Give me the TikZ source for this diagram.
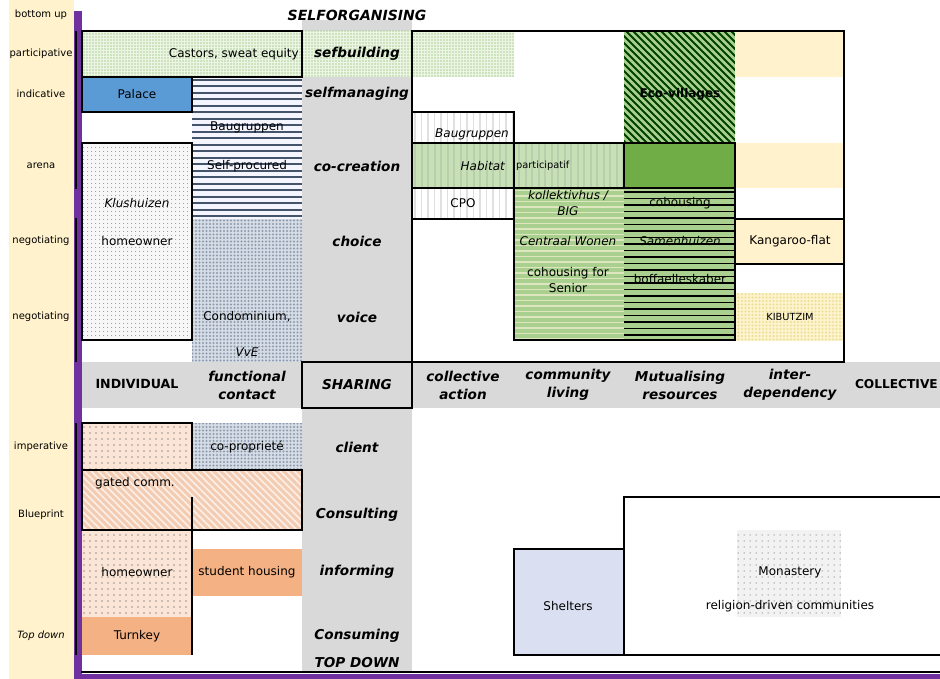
\documentclass[tikz,border=0pt]{standalone}
\usepackage{fontspec}
\setmainfont{DejaVu Sans}
\usepackage{xcolor}
\usetikzlibrary{patterns.meta}

\definecolor{cream}{RGB}{255,242,204}
\definecolor{purplebar}{RGB}{112,48,160}
\definecolor{greycol}{RGB}{217,217,217}
\definecolor{palaceblue}{RGB}{91,155,213}
\definecolor{leafgreen}{RGB}{112,173,71}
\definecolor{sagegreen}{RGB}{169,208,142}
\definecolor{palegreen}{RGB}{200,224,182}
\definecolor{stripegreen}{RGB}{184,206,172}
\definecolor{paleline}{RGB}{222,230,192}
\definecolor{dotgreen}{RGB}{175,208,155}
\definecolor{dotbg}{RGB}{236,244,228}
\definecolor{peach}{RGB}{244,177,131}
\definecolor{palepeach}{RGB}{251,229,214}
\definecolor{hatchpeach}{RGB}{242,205,180}
\definecolor{lavender}{RGB}{218,224,242}
\definecolor{slate}{RGB}{68,84,106}
\definecolor{checkbg}{RGB}{214,220,228}
\definecolor{checkgrey}{RGB}{140,155,175}
\definecolor{kibdot}{RGB}{228,226,150}

\begin{document}
\begin{tikzpicture}[x=1pt,y=-1pt,
  every node/.style={inner sep=1pt},
  lab/.style={font=\fontsize{10}{12}\selectfont},
  txt/.style={font=\fontsize{12}{16}\selectfont,align=center},
  small/.style={font=\fontsize{9.8}{12}\selectfont},
  key/.style={font=\fontsize{13.6}{18}\selectfont\bfseries\itshape,align=center},
  cellb/.style={draw=black,line width=2.2pt},
  greendots/.style={preaction={fill=dotbg},pattern={Dots[radius=0.8pt,distance=3pt]},pattern color=dotgreen},
  greydots/.style={preaction={fill=black!3},pattern={Dots[radius=0.55pt,distance=4pt]},pattern color=black!60},
  checker/.style={preaction={fill=checkbg},pattern={Dots[radius=1.2pt,distance=3.5pt]},pattern color=checkgrey},
  peachdots/.style={preaction={fill=palepeach},pattern={Dots[radius=0.6pt,distance=6pt]},pattern color=black!80},
  yellowcheck/.style={preaction={fill=cream},pattern={Dots[radius=1.1pt,distance=3.5pt]},pattern color=kibdot},
  monkdots/.style={preaction={fill=black!5},pattern={Dots[radius=0.5pt,distance=6pt]},pattern color=black!80}]

\useasboundingbox (0,0) rectangle (940,679);

% side band and frame
\fill[cream] (9,0) rectangle (74,679);
\fill[purplebar] (74,11) rectangle (82,679);
\fill[purplebar] (74,674) rectangle (940,679);
\fill[greycol] (302,20) rectangle (412,672);
\fill[greycol] (82,362) rectangle (940,408);

% bottom-up half
\path[greendots] (82,31) rectangle (412,77);
\path[greendots] (412,31) rectangle (514,77);
\fill[palaceblue] (82,77) rectangle (192,112);
\begin{scope}
  \clip (192,77) rectangle (302,219);
  \fill[blue!4] (192,77) rectangle (302,219);
  \foreach \y in {80,86.5,...,219} \draw[slate,line width=2pt] (192,\y) -- (302,\y);
\end{scope}
\path[greydots] (82,143) rectangle (192,340);
\path[checker] (192,219) rectangle (302,362);
\begin{scope}
  \clip (624,31) rectangle (735,143);
  \fill[sagegreen] (624,31) rectangle (735,143);
  \foreach \s in {500,507,...,740} \draw[black!75!green,line width=1.8pt] (\s,31) -- ++(125,125);
\end{scope}
\fill[cream] (735,31) rectangle (844,77);
\fill[cream] (735,143) rectangle (844,188);
\begin{scope}
  \clip (412,112) rectangle (514,219);
  \foreach \x in {415,421.5,...,514} \draw[black!12,line width=1.6pt] (\x,112) -- (\x,219);
\end{scope}
\begin{scope}
  \clip (412,143) rectangle (624,188);
  \fill[palegreen] (412,143) rectangle (624,188);
  \foreach \x in {415,421.5,...,624} \draw[stripegreen,line width=2pt] (\x,143) -- (\x,188);
\end{scope}
\fill[leafgreen] (624,143) rectangle (735,188);
\begin{scope}
  \clip (514,188) rectangle (624,340);
  \fill[sagegreen] (514,188) rectangle (624,340);
  \foreach \y in {190.5,196,...,340} \draw[paleline,line width=1.8pt] (514,\y) -- (624,\y);
\end{scope}
\begin{scope}
  \clip (624,188) rectangle (735,340);
  \fill[sagegreen] (624,188) rectangle (735,340);
  \foreach \y in {192,198.5,...,340} \draw[black,line width=1.3pt] (624,\y) -- (735,\y);
\end{scope}
\fill[cream] (735,219) rectangle (844,264);
\path[yellowcheck] (735,293) rectangle (843,341);

\draw[cellb] (82,31) rectangle (302,77);
\draw[cellb] (82,77) rectangle (192,112);
\draw[cellb] (82,143) rectangle (192,340);
\draw[cellb] (412,31) rectangle (844,362);
\draw[cellb] (412,112) rectangle (514,143);
\draw[cellb] (412,143) rectangle (514,188);
\draw[cellb] (514,143) rectangle (624,188);
\draw[cellb] (624,143) rectangle (735,188);
\draw[cellb] (412,188) rectangle (514,219);
\draw[cellb] (514,188) rectangle (735,340);
\draw[cellb] (735,219) rectangle (844,264);
\draw[cellb] (302,362) rectangle (412,408);

% top-down half
\path[peachdots] (82,423) rectangle (192,470);
\path[checker] (192,423) rectangle (302,470);
\begin{scope}
  \clip (82,470) rectangle (302,530);
  \fill[hatchpeach] (82,470) rectangle (302,530);
  \foreach \s in {20,27,...,302} \draw[palepeach!60!white,line width=1.6pt] (\s,470) -- ++(70,70);
\end{scope}
\path[peachdots] (82,530) rectangle (192,617);
\fill[peach] (82,617) rectangle (192,655);
\fill[peach] (192,549) rectangle (302,596);
\fill[lavender] (514,549) rectangle (624,655);
\path[monkdots] (737,530) rectangle (841,617);

\draw[cellb] (82,423) rectangle (192,470);
\draw[cellb] (82,470) rectangle (302,530);
\draw[line width=1.6pt] (192,497) -- (192,655);
\draw[cellb] (514,549) rectangle (624,655);
\draw[cellb] (942,497) -| (624,655) -- (942,655);

\draw[line width=2pt] (76,31) -- (76,189);
\draw[line width=2pt] (76,218) -- (76,362);
\draw[line width=2pt] (76,423) -- (76,655);
\draw[line width=2.2pt] (81,672) -- (940,672);

% left scale
\node[lab] (bu) at (41,15) {bottom up};
\node[lab] (pa) at (41,54) {participative};
\node[lab] (in) at (41,94) {indicative};
\node[lab] (ar) at (41,166) {arena};
\node[lab] (ne1) at (41,241) {negotiating};
\node[lab] (ne2) at (41,317) {negotiating};
\node[lab] (im) at (41,447) {imperative};
\node[lab] (bp) at (41,515) {Blueprint};
\node[lab,font=\fontsize{10}{12}\selectfont\itshape] (td) at (41,636) {Top down};

% sharing column
\node[key,font=\fontsize{14}{18}\selectfont\bfseries\itshape] (self) at (357,15) {SELFORGANISING};
\node[key] (sb) at (357,54) {sefbuilding};
\node[key] (sm) at (357,94) {selfmanaging};
\node[key] (cc) at (357,166) {co-creation};
\node[key] (ch) at (357,241) {choice};
\node[key] (vo) at (357,317) {voice};
\node[key] (sh) at (357,385) {SHARING};
\node[key] (cl) at (357,447) {client};
\node[key] (co) at (357,515) {Consulting};
\node[key] (inf) at (357,572) {informing};
\node[key] (cons) at (357,636) {Consuming};
\node[key] (down) at (357,663) {TOP DOWN};

% header row
\node[key,font=\fontsize{12.6}{18}\selectfont\bfseries] (indiv) at (137,384) {INDIVIDUAL};
\node[key] (func) at (247,385) {functional\\contact};
\node[key] (coll) at (463,385) {collective\\action};
\node[key] (comm) at (568,385) {community\\living};
\node[key] (mutu) at (680,385) {Mutualising\\resources};
\node[key] (inter) at (790,385) {inter-\\dependency};
\node[key,font=\fontsize{12.2}{18}\selectfont\bfseries,anchor=east] (collective) at (939,384) {COLLECTIVE};

% cells, upper half
\node[txt,anchor=east] (castors) at (300,54) {Castors, sweat equity};
\node[txt] (palace) at (137,94) {Palace};
\node[txt] (baug) at (247,127) {Baugruppen};
\node[txt] (selfp) at (247,166) {Self-procured};
\node[txt,font=\fontsize{12}{16}\selectfont\itshape] (klus) at (137,203) {Klushuizen};
\node[txt] (home1) at (137,241) {homeowner};
\node[txt] (condo) at (247,317) {Condominium,};
\node[txt,font=\fontsize{12}{16}\selectfont\itshape] (vve) at (247,352) {VvE};
\node[txt,font=\fontsize{12}{16}\selectfont\itshape,anchor=east] (baug2) at (510,134) {Baugruppen};
\node[txt,font=\fontsize{12}{16}\selectfont\itshape,anchor=east] (habitat) at (506,166) {Habitat};
\node[small,anchor=west] (partic) at (515,166) {participatif};
\node[txt,font=\fontsize{12}{16}\selectfont\bfseries] (eco) at (680,94) {Eco-villages};
\node[txt] (cpo) at (463,203) {CPO};
\node[txt,font=\fontsize{12}{16}\selectfont\itshape] (kollek) at (568,203) {kollektivhus /\\BIG};
\node[txt,font=\fontsize{12}{16}\selectfont\itshape] (centraal) at (568,241) {Centraal Wonen};
\node[txt] (senior) at (568,280) {cohousing for\\Senior};
\node[txt] (cohous) at (680,203) {cohousing};
\node[txt,font=\fontsize{12}{16}\selectfont\itshape] (samen) at (680,241) {Samenhuizen};
\node[txt] (boff) at (680,279) {boffaelleskaber};
\node[txt] (kang) at (790,241) {Kangaroo-flat};
\node[small] (kib) at (790,317) {KIBUTZIM};

% cells, lower half
\node[txt] (copro) at (247,447) {co-proprieté};
\node[txt] (gated) at (135,483) {gated comm.};
\node[txt] (home2) at (137,572) {homeowner};
\node[txt] (student) at (247,572) {student housing};
\node[txt] (turn) at (137,636) {Turnkey};
\node[txt] (shel) at (568,606) {Shelters};
\node[txt] (monk) at (790,572) {Monastery};
\node[txt] (relig) at (790,606) {religion-driven communities};

\end{tikzpicture}
\end{document}
